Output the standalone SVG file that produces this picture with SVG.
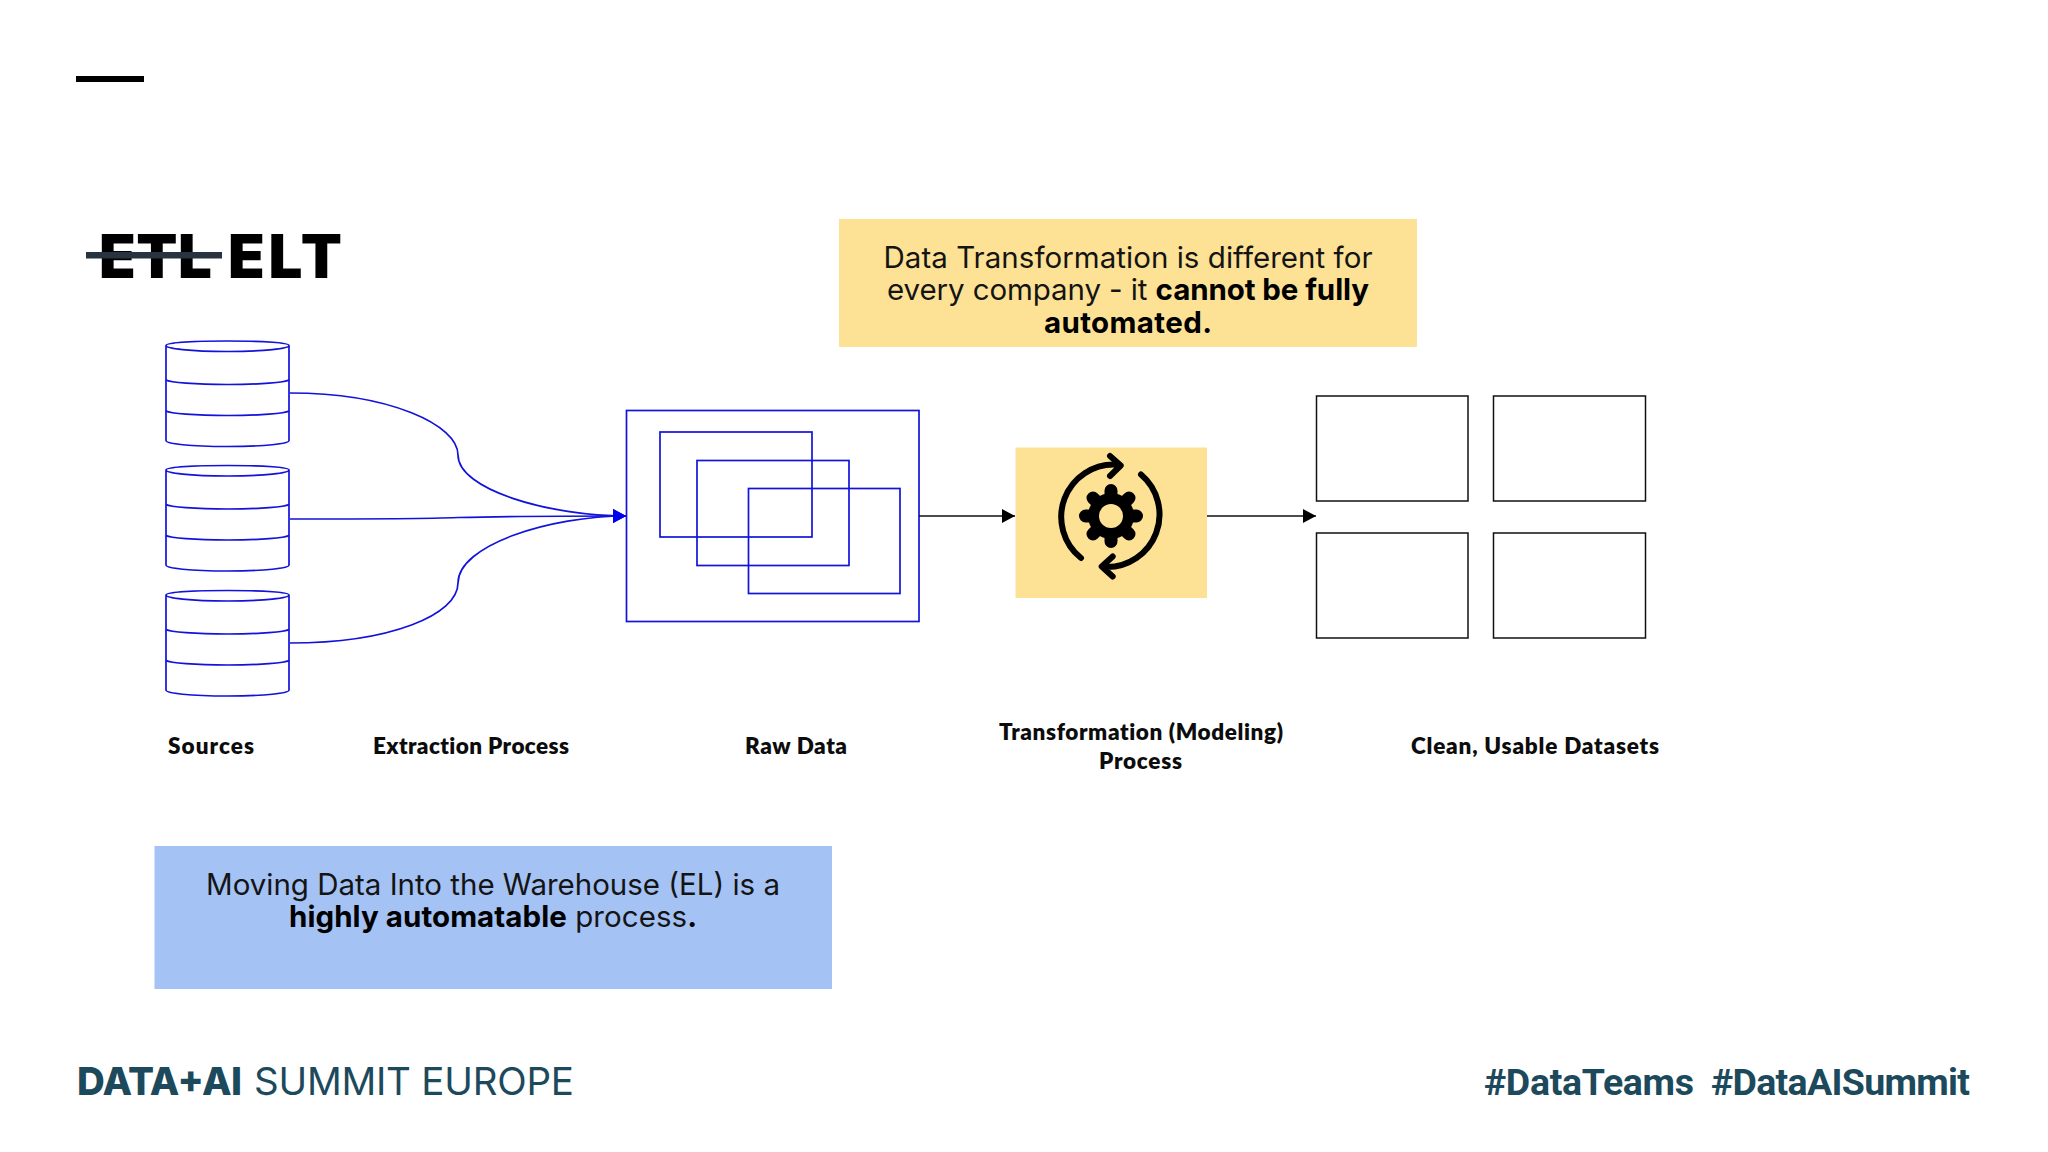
<svg xmlns="http://www.w3.org/2000/svg" width="2048" height="1152" viewBox="0 0 2048 1152">
<style>
.blue{fill:none;stroke:#1212dc;stroke-width:1.7}
.cyl{fill:none;stroke:#1212dc;stroke-width:1.7}
.blk{fill:none;stroke:#111;stroke-width:1.5}
.lab{font-family:"Lato","Liberation Sans",sans-serif;font-weight:800;font-size:22.5px;fill:#0c0c0c;font-variant-ligatures:none}
.co{font-family:"Inter","Liberation Sans",sans-serif;font-size:29.5px;fill:#141414;text-anchor:middle}
.co .b{font-weight:700;fill:#000}
.ttl{font-family:"Inter","Liberation Sans",sans-serif;font-weight:900;font-size:60px;fill:#000}
.ft{font-family:"Inter","Liberation Sans",sans-serif;font-size:38.5px;fill:#1c4a5c}
.ht{font-family:"Roboto","Liberation Sans",sans-serif;font-weight:700;font-size:37.5px;fill:#1c4a5c}
.ic{fill:none;stroke:#000;stroke-width:6;stroke-linecap:round;stroke-linejoin:round}
</style>
<defs>
<marker id="ab" markerUnits="userSpaceOnUse" markerWidth="13" markerHeight="14" refX="13" refY="7" orient="auto"><path d="M0 0L13 7L0 14Z" fill="#0000f0"/></marker>
<marker id="ak" markerUnits="userSpaceOnUse" markerWidth="13" markerHeight="14" refX="13" refY="7" orient="auto"><path d="M0 0L13 7L0 14Z" fill="#000"/></marker>
<g id="cyl">
<path class="cyl" d="M166 345.5V440.5C166 443.8 190 446.5 227.500 446.500C265 446.500 289 443.800 289 440.500V345.500C289 342.500 265 341 227.500 341C190 341 166 342.500 166 345.500C166 348.500 190 351.500 227.500 351.500C265 351.500 289 348.500 289 345.500"/>
<path class="cyl" d="M166 380C170 382.500 195 384.500 227.500 384.500C260 384.500 285 382.500 289 380"/>
<path class="cyl" d="M166 411C170 413.500 195 415.500 227.500 415.500C260 415.500 285 413.500 289 411"/>
</g>
</defs>
<rect width="2048" height="1152" fill="#fff"/>
<rect id="dash" x="76" y="76" width="68" height="6" fill="#000"/>
<g id="title">
<text class="ttl" x="99" y="278" textLength="113">ETL</text>
<text class="ttl" x="228" y="278" textLength="114">ELT</text>
<rect x="86" y="252" width="136" height="6.500" fill="#27333f"/>
</g>
<g id="callout-top">
<rect x="839" y="219" width="578" height="128" fill="#fde296"/>
<text class="co" x="1128" y="268" textLength="489">Data Transformation is different for</text>
<text class="co" x="1128" y="300" textLength="482">every company - it <tspan class="b">cannot be fully</tspan></text>
<text class="co" x="1128" y="333" textLength="168"><tspan class="b">automated.</tspan></text>
</g>
<g id="source-1"><use href="#cyl"/></g>
<g id="source-2"><use href="#cyl" y="124.500"/></g>
<g id="source-3"><use href="#cyl" y="249.500"/></g>
<g id="raw-data">
<rect class="blue" x="626.500" y="410.500" width="292.500" height="211"/>
<rect class="blue" x="660" y="432" width="152" height="105"/>
<rect class="blue" x="697" y="460.500" width="152" height="105"/>
<rect class="blue" x="748.500" y="488.500" width="151.500" height="105"/>
</g>
<g id="transform">
<rect x="1015.500" y="447.500" width="191.500" height="150.500" fill="#fde296"/>
<g transform="translate(1111 516)">
<g stroke="#000" stroke-width="13" stroke-linecap="round">
<path d="M0 -25.500V25.500M-25.500 0H25.500M-18 -18L18 18M-18 18L18 -18"/>
</g>
<circle r="23" fill="#000"/>
<circle r="12" fill="#fde296"/>
</g>
<path class="ic" d="M1081 558A52.500 52.500 0 0 1 1116 464.500M1110 456L1120.700 465.500L1110 476"/>
<path class="ic" d="M1141 474.500A52.500 52.500 0 0 1 1106 567M1112.700 556.500L1101.700 566.500L1112.700 576.500"/>
</g>
<g id="datasets">
<rect class="blk" x="1316.500" y="396" width="151.500" height="105"/>
<rect class="blk" x="1493.500" y="396" width="152" height="105"/>
<rect class="blk" x="1316.500" y="533" width="151.500" height="105"/>
<rect class="blk" x="1493.500" y="533" width="152" height="105"/>
</g>
<g id="connectors">
<path class="blue" marker-end="url(#ab)" d="M290 393C390 393 458 425 458 455C458 490 550 516 626 516"/>
<path class="blue" marker-end="url(#ab)" d="M290 519C350 519 420 519 458 517.500C500 516.500 560 516 626 516"/>
<path class="blue" marker-end="url(#ab)" d="M290 643C390 643 458 615 458 583C458 545 550 516 626 516"/>
<path class="blk" marker-end="url(#ak)" d="M919 516H1015"/>
<path class="blk" marker-end="url(#ak)" d="M1207 516H1316"/>
</g>
<g id="labels">
<text class="lab" x="168" y="754" textLength="86">Sources</text>
<text class="lab" x="373" y="754" textLength="196">Extraction Process</text>
<text class="lab" x="745" y="754" textLength="102">Raw Data</text>
<text class="lab" x="999" y="740" textLength="284">Transformation (Modeling)</text>
<text class="lab" x="1099" y="769" textLength="83">Process</text>
<text class="lab" x="1411" y="754" textLength="248">Clean, Usable Datasets</text>
</g>
<g id="callout-bottom">
<rect x="154.500" y="846" width="677.500" height="143" fill="#a4c2f4"/>
<text class="co" x="493" y="895" textLength="574">Moving Data Into the Warehouse (EL) is a</text>
<text class="co" x="493" y="927" textLength="408"><tspan class="b">highly automatable</tspan> process<tspan class="b">.</tspan></text>
</g>
<g id="footer">
<text class="ft" x="77" y="1095" font-weight="800" textLength="165">DATA+AI</text>
<text class="ft" x="254" y="1095" textLength="320">SUMMIT EUROPE</text>
<text class="ht" x="1484" y="1095" textLength="210">#DataTeams</text>
<text class="ht" x="1711" y="1095" textLength="259">#DataAISummit</text>
</g>
</svg>
